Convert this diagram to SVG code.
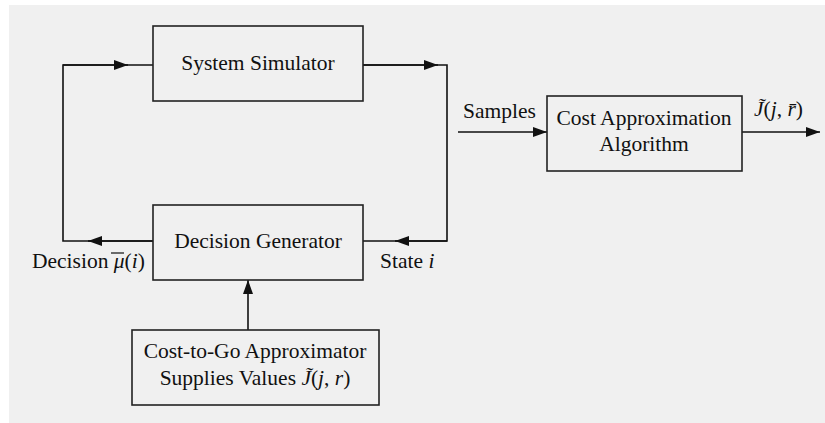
<svg xmlns="http://www.w3.org/2000/svg" width="825" height="423" viewBox="0 0 825 423">
<defs>
<style>
.box{fill:none;stroke:#222;stroke-width:1.6}
.ln{fill:none;stroke:#111;stroke-width:1.6}
text{font-family:"Liberation Serif","Times New Roman",serif;font-size:21.5px;fill:#111}
.c{text-anchor:middle}
.it{font-style:italic}
</style>
<marker id="ah" viewBox="0 0 14 10" refX="14" refY="5" markerWidth="14" markerHeight="10" markerUnits="userSpaceOnUse" orient="auto">
<path d="M0,0 L14,5 L0,10 Z" fill="#111"/>
</marker>
</defs>
<rect x="0" y="0" width="825" height="423" fill="#ffffff"/>
<rect x="9" y="5" width="816" height="418" fill="#f0f0f0"/>

<g id="connectors">
<path class="ln" d="M153,241 H63 V65 H153"/>
<path class="ln" d="M63,65 H128" marker-end="url(#ah)"/>
<path class="ln" d="M153,241 H88" marker-end="url(#ah)"/>
<path class="ln" d="M363,65 H447 V241 H363"/>
<path class="ln" d="M363,65 H438" marker-end="url(#ah)"/>
<path class="ln" d="M447,241 H395" marker-end="url(#ah)"/>
<path class="ln" d="M248,330 V280" marker-end="url(#ah)"/>
<path class="ln" d="M458,132 H547" marker-end="url(#ah)"/>
<path class="ln" d="M742,132 H820" marker-end="url(#ah)"/>
<text x="32" y="268">Decision <tspan class="it">μ</tspan>(<tspan class="it">i</tspan>)</text>
<line x1="111" y1="253" x2="124" y2="253" stroke="#111" stroke-width="1.2"/>
<text x="380" y="268">State <tspan class="it">i</tspan></text>
<text x="463" y="118">Samples</text>
<text x="754" y="116"><tspan class="it">J̃</tspan>(<tspan class="it">j</tspan>, <tspan class="it">r̄</tspan>)</text>
</g>

<g id="system-simulator">
<rect class="box" x="153" y="26" width="210" height="75"/>
<text class="c" x="258" y="70">System Simulator</text>
</g>

<g id="decision-generator">
<rect class="box" x="153" y="205" width="210" height="75"/>
<text class="c" x="258" y="248">Decision Generator</text>
</g>

<g id="cost-to-go">
<rect class="box" x="132" y="330" width="247" height="75"/>
<text class="c" x="255" y="358">Cost-to-Go Approximator</text>
<text class="c" x="255" y="385">Supplies Values <tspan class="it">J̃</tspan>(<tspan class="it">j</tspan>, <tspan class="it">r</tspan>)</text>
</g>

<g id="cost-approx">
<rect class="box" x="547" y="96" width="195" height="75"/>
<text class="c" x="644" y="125">Cost Approximation</text>
<text class="c" x="644" y="151">Algorithm</text>
</g>
</svg>
